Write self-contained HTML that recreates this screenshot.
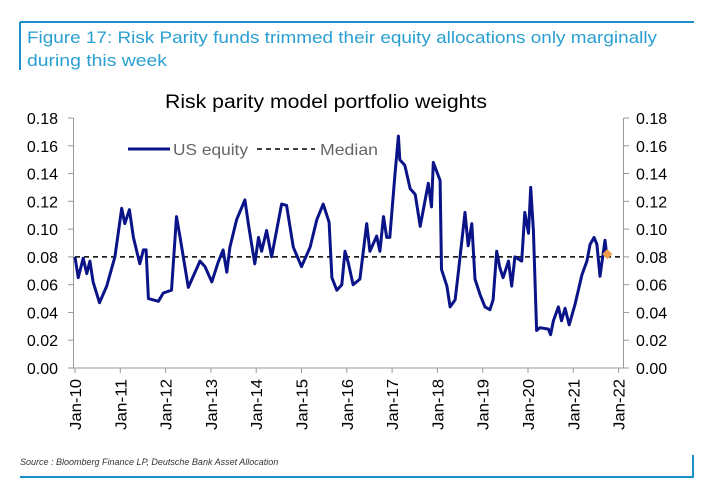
<!DOCTYPE html>
<html><head><meta charset="utf-8"><style>
body{margin:0;background:#fff;width:708px;height:486px;overflow:hidden;font-family:"Liberation Sans",sans-serif}
</style></head><body>
<svg id="c" width="708" height="486" xmlns="http://www.w3.org/2000/svg">
<line x1="20" y1="22" x2="694" y2="22" stroke="#1a8fc9" stroke-width="2"/>
<line x1="20" y1="22" x2="20" y2="70" stroke="#1a8fc9" stroke-width="2"/>
<text x="27" y="43" font-size="17" fill="#2a9fd2" textLength="630" lengthAdjust="spacingAndGlyphs">Figure 17: Risk Parity funds trimmed their equity allocations only marginally</text>
<text x="27" y="66" font-size="17" fill="#2a9fd2" textLength="140" lengthAdjust="spacingAndGlyphs">during this week</text>
<text x="165" y="108" font-size="19" fill="#000" textLength="322" lengthAdjust="spacingAndGlyphs">Risk parity model portfolio weights</text>
<g id="axes"></g>
<g id="legend">
<line x1="128" y1="149" x2="170" y2="149" stroke="#0a1488" stroke-width="3"/>
<text x="173" y="155" font-size="16" fill="#666" textLength="75" lengthAdjust="spacingAndGlyphs">US equity</text>
<line x1="257" y1="149" x2="315" y2="149" stroke="#000" stroke-width="1.5" stroke-dasharray="5,4"/>
<text x="320" y="155" font-size="16" fill="#666" textLength="58" lengthAdjust="spacingAndGlyphs">Median</text>
</g>
<text x="20" y="465" font-size="9" font-style="italic" fill="#333">Source :  Bloomberg Finance LP, Deutsche Bank Asset Allocation</text>
<line x1="20" y1="477" x2="694" y2="477" stroke="#1a8fc9" stroke-width="2"/>
<line x1="693" y1="455" x2="693" y2="478" stroke="#1a8fc9" stroke-width="2"/>
</svg>
<script>
const yTicks=[0,0.02,0.04,0.06,0.08,0.10,0.12,0.14,0.16,0.18];
const xYears=[2010,2011,2012,2013,2014,2015,2016,2017,2018,2019,2020,2021,2022];
const xLabels=["Jan-10","Jan-11","Jan-12","Jan-13","Jan-14","Jan-15","Jan-16","Jan-17","Jan-18","Jan-19","Jan-20","Jan-21","Jan-22"];
const median=0.08;
const dates=[0,.07,.18,.26,.33,.40,.54,.70,.88,1.03,1.10,1.20,1.29,1.43,1.51,1.57,1.62,1.84,1.95,2.13,2.24,2.32,2.50,2.76,2.87,3.02,3.16,3.27,3.35,3.42,3.57,3.75,3.83,3.97,4.05,4.12,4.23,4.34,4.45,4.56,4.67,4.82,5.00,5.19,5.34,5.48,5.61,5.67,5.78,5.89,5.96,6.03,6.14,6.29,6.44,6.51,6.66,6.73,6.81,6.88,6.95,7.06,7.14,7.17,7.28,7.40,7.51,7.62,7.80,7.87,7.91,8.06,8.09,8.21,8.28,8.39,8.46,8.61,8.68,8.76,8.83,8.94,9.05,9.16,9.23,9.31,9.38,9.45,9.57,9.64,9.71,9.86,9.93,10.01,10.06,10.12,10.19,10.26,10.45,10.50,10.56,10.67,10.74,10.82,10.91,11.04,11.19,11.30,11.37,11.46,11.52,11.59,11.70,11.74];
const usEquity=[0.080,0.065,0.079,0.068,0.077,0.062,0.047,0.059,0.080,0.115,0.104,0.114,0.094,0.075,0.085,0.085,0.050,0.048,0.054,0.056,0.109,0.094,0.058,0.077,0.073,0.062,0.076,0.085,0.069,0.087,0.107,0.121,0.103,0.075,0.094,0.084,0.099,0.080,0.099,0.118,0.117,0.087,0.073,0.087,0.107,0.118,0.105,0.065,0.056,0.060,0.084,0.076,0.060,0.064,0.104,0.084,0.095,0.084,0.109,0.094,0.094,0.138,0.167,0.150,0.146,0.129,0.125,0.102,0.133,0.116,0.148,0.135,0.071,0.059,0.044,0.049,0.068,0.112,0.088,0.104,0.064,0.053,0.044,0.042,0.049,0.084,0.072,0.065,0.077,0.059,0.080,0.077,0.112,0.097,0.130,0.099,0.027,0.029,0.028,0.024,0.034,0.044,0.034,0.043,0.031,0.046,0.067,0.077,0.089,0.094,0.089,0.066,0.092,0.081];
const lastPoint=[11.75,0.082];

const X0=75,XW=45.3,Y0=368,YH=250,YMAX=0.18;
const sx=t=>X0+(t-(t>=2000?2010:0))*XW;
const sy=v=>Y0-v/YMAX*YH;
const NS="http://www.w3.org/2000/svg";
const ax=document.getElementById('axes');
function mk(tag,attrs,parent){const e=document.createElementNS(NS,tag);for(const k in attrs)e.setAttribute(k,attrs[k]);(parent||ax).appendChild(e);return e;}
let e;
e=mk('line',{x1:73.5,y1:sy(YMAX),x2:73.5,y2:Y0,stroke:'#999','stroke-width':1});


e=mk('line',{x1:623.5,y1:sy(YMAX),x2:623.5,y2:Y0,stroke:'#999','stroke-width':1});


e=mk('line',{x1:73.5,y1:Y0,x2:623.5,y2:Y0,stroke:'#999','stroke-width':1});


yTicks.forEach(v=>{
 const y=sy(v);
 mk('line',{x1:68,y1:y,x2:73.5,y2:y,stroke:'#999'});
 mk('line',{x1:623.5,y1:y,x2:629,y2:y,stroke:'#999'});
 e=mk('text',{x:58,y:y+6,'font-size':16,'text-anchor':'end',fill:'#000'});e.textContent=v.toFixed(2);
 
 
 e=mk('text',{x:636,y:y+6,'font-size':16,fill:'#000'});e.textContent=v.toFixed(2);
 
 
});
xYears.forEach((yr,i)=>{
 const x=sx(yr);
 mk('line',{x1:x,y1:Y0,x2:x,y2:Y0+5,stroke:'#999'});
 e=mk('text',{x:0,y:0,'font-size':16,'text-anchor':'end',fill:'#000',textLength:51,lengthAdjust:'spacingAndGlyphs',transform:`translate(${x+6},379) rotate(-90)`});
 e.textContent=xLabels[i];
 
 
});
e=mk('line',{x1:X0,y1:sy(median),x2:621,y2:sy(median),stroke:'#000','stroke-width':1.5,'stroke-dasharray':'5,4'});


const pts=dates.map((d,i)=>sx(d).toFixed(1)+','+sy(usEquity[i]).toFixed(1)).join(' ');
e=mk('polyline',{points:pts,fill:'none',stroke:'#0a1488','stroke-width':3,'stroke-linejoin':'round'});


const px=sx(lastPoint[0]),py=sy(lastPoint[1]);
e=mk('polygon',{points:`${px},${py-5} ${px+5},${py} ${px},${py+5} ${px-5},${py}`,fill:'#f59a4a'});


</script>
</body></html>
